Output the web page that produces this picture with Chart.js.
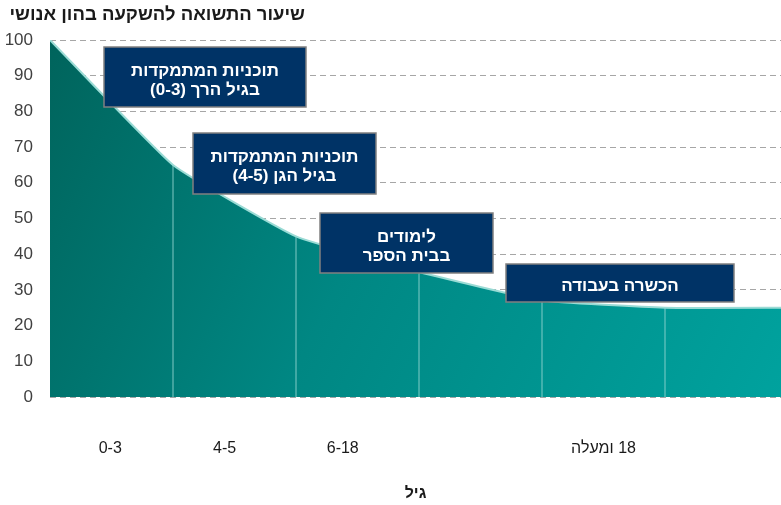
<!DOCTYPE html>
<html><head><meta charset="utf-8">
<script src="https://cdn.jsdelivr.net/npm/chart.js@4/dist/chart.umd.min.js"></script>
<style>html,body{margin:0;padding:0;background:#fff}#wrap{width:781px;height:505px;position:relative}</style>
</head><body><div id="wrap"><canvas id="c" dir="rtl"></canvas></div>
<script>
const chartTitle = 'שיעור התשואה להשקעה בהון אנושי';
const axisTitle = 'גיל';
const breakPoints = [0, 1, 2, 3, 4, 5, 6];
const returnValues = [100, 65, 45, 35, 27, 25, 25];
const categoryLabels = ['0-3', '4-5', '6-18', '18 ומעלה'];
const categoryPositions = [0.49, 1.42, 2.38, 4.5];
const boxTexts = [
  ['תוכניות המתמקדות', 'בגיל הרך (0-3)'],
  ['תוכניות המתמקדות', 'בגיל הגן (4-5)'],
  ['לימודים', 'בבית הספר'],
  ['הכשרה בעבודה']
];

const FONT = "'Liberation Sans', Arial, sans-serif";
const boxLayout = [
  {l:104, t:47, r:306, b:107},
  {l:193, t:133, r:376, b:194},
  {l:320, t:213, r:493, b:273},
  {l:506, t:264, r:734, b:302}
];

const areaData = breakPoints.map((x, i) => ({x, y: returnValues[i]}));
const dividerSets = breakPoints.slice(1, 6).map((x, k) => ({
  data: [{x, y: 0}, {x, y: returnValues[k + 1]}],
  borderColor: 'rgba(150,215,210,0.85)',
  borderWidth: 1,
  pointRadius: 0,
  fill: false,
  tension: 0,
  order: 1
}));

const overlayPlugin = {
  id: 'overlay',
  afterDraw(chart) {
    const ctx = chart.ctx;
    ctx.save();
    ctx.direction = 'rtl';
    ctx.fillStyle = '#1a1a1a';
    ctx.font = "bold 18.5px " + FONT;
    ctx.textAlign = 'right';
    ctx.textBaseline = 'alphabetic';
    ctx.fillText(chartTitle, 305, 20);
    boxLayout.forEach((b, i) => {
      ctx.fillStyle = '#003366';
      ctx.fillRect(b.l, b.t, b.r - b.l, b.b - b.t);
      ctx.strokeStyle = '#808080';
      ctx.lineWidth = 1.5;
      ctx.strokeRect(b.l, b.t, b.r - b.l, b.b - b.t);
      ctx.fillStyle = '#ffffff';
      ctx.font = "bold 17px " + FONT;
      ctx.textAlign = 'center';
      const cx = (b.l + b.r) / 2;
      const lines = boxTexts[i];
      if (lines.length === 1) {
        ctx.fillText(lines[0], cx, b.t + 27);
      } else {
        ctx.fillText(lines[0], cx, b.t + 29);
        ctx.fillText(lines[1], cx, b.t + 48);
      }
    });
    ctx.restore();
  }
};

new Chart(document.getElementById('c'), {
  type: 'line',
  data: {
    datasets: [
      {
        data: areaData,
        fill: 'origin',
        tension: 0.12,
        pointRadius: 0,
        borderColor: '#9adbd5',
        borderWidth: 2,
        order: 2,
        backgroundColor(ctx) {
          const a = ctx.chart.chartArea;
          if (!a) return '#008080';
          const g = ctx.chart.ctx.createLinearGradient(a.left, a.top, a.right, a.bottom);
          g.addColorStop(0, '#00645c');
          g.addColorStop(0.45, '#008783');
          g.addColorStop(1, '#00a29e');
          return g;
        }
      },
      ...dividerSets
    ]
  },
  options: {
    responsive: true,
    maintainAspectRatio: false,
    animation: false,
    layout: {padding: {top: 40, left: 0, right: 0, bottom: 0}},
    plugins: {legend: {display: false}, tooltip: {enabled: false}, title: {display: false}},
    scales: {
      x: {
        type: 'linear',
        min: 0,
        max: 5.943,
        afterFit(s) { s.height = 108; },
        afterBuildTicks(s) { s.ticks = categoryPositions.map(v => ({value: v})); },
        grid: {display: false, drawTicks: false},
        border: {display: false},
        ticks: {
          autoSkip: false, maxRotation: 0, padding: 42,
          color: '#1a1a1a',
          font: {family: FONT, size: 16},
          callback: (v, i) => categoryLabels[i]
        },
        title: {
          display: true, text: axisTitle, color: '#1a1a1a',
          font: {family: FONT, size: 16, weight: 'bold'},
          padding: {top: 0, bottom: 2}
        }
      },
      y: {
        min: 0, max: 100,
        afterFit(s) { s.width = 50; },
        ticks: {stepSize: 10, padding: 17, color: '#404040', font: {family: FONT, size: 17}},
        grid: {color: '#a6a6a6', lineWidth: 1, drawTicks: false},
        border: {display: false, dash: [6, 4]}
      }
    }
  },
  plugins: [overlayPlugin]
});
</script>
</body></html>
